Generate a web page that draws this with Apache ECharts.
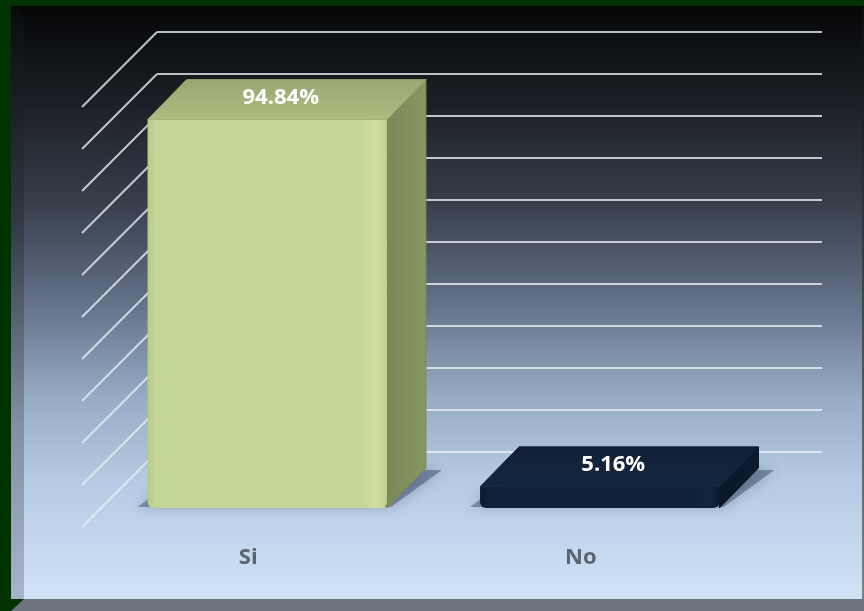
<!DOCTYPE html>
<html><head><meta charset="utf-8">
<script src="https://cdn.jsdelivr.net/npm/echarts@6/dist/echarts.min.js"></script>
<style>html,body{margin:0;padding:0;background:#013201;}#c{width:864px;height:611px;}</style>
</head><body><div id="c"></div>
<script>
// ---- data ----
const categories = ['Si', 'No'];
const values = [94.84, 5.16];
const valueLabels = ['94.84%', '5.16%'];
const yMin = 0, yMax = 100, yInterval = 10;
const yTicks = [0, 10, 20, 30, 40, 50, 60, 70, 80, 90, 100];

// ---- styles ----
const barStyles = [
  { front: ['#b8ca8a', '#c4d698', '#c5d799', '#cfe0a2', '#c0d192'], top: ['#adbc82', '#99a871'], side: ['#7b8958', '#889662'] },
  { front: ['#0b1a2e', '#0f2038', '#102139', '#13253f', '#0c1b30'], top: ['#15273f', '#102037'], side: ['#0a1628', '#0d1b30'] }
];
const gridColor = 'rgba(232,238,244,0.8)';
const FRONT = [-56, 56], BACK = [-17, 16], FLOOR = 75, K = 0.975;
const FONT = '"Open Sans", "Liberation Sans", sans-serif';

const chart = echarts.init(document.getElementById('c'), null, { renderer: 'canvas' });

function lin(x1, y1, x2, y2, cols) {
  const n = cols.length;
  return new echarts.graphic.LinearGradient(x1, y1, x2, y2,
    cols.map((c, i) => ({ offset: n === 5 ? [0, 0.03, 0.9, 0.96, 1][i] : i / (n - 1), color: c })));
}

function renderDiag(params, api) {
  const y = api.coord([0, api.value(1)])[1];
  const x0 = params.coordSys.x;
  return { type: 'line', shape: { x1: x0, y1: y, x2: x0 - FLOOR, y2: y + FLOOR },
    style: { stroke: gridColor, lineWidth: 2 } };
}

function renderBar(params, api) {
  const i = params.dataIndex;
  const v = api.value(1);
  const b = api.coord([i, 0]);
  const t = api.coord([i, v]);
  const cx = b[0];
  const bw = api.size([1, 0])[0] * 0.72;
  const h = (b[1] - t[1]) * K;
  const s = barStyles[i];
  const fx0 = cx + FRONT[0] - bw / 2, fx1 = cx + FRONT[0] + bw / 2;
  const fyb = b[1] + FRONT[1], fyt = fyb - h;
  const bx0 = cx + BACK[0] - bw / 2, bx1 = cx + BACK[0] + bw / 2;
  const byb = b[1] + BACK[1], byt = byb - h;
  const children = [];
  children.push({ type: 'polygon', shape: { points: [[fx0 - 10, fyb - 1], [fx1 + 4, fyb - 1], [bx1 + 16, byb + 2], [bx0, byb + 2]] },
    style: { fill: 'rgba(40,55,80,0.42)', shadowBlur: 14, shadowColor: 'rgba(40,55,80,0.7)' } });
  children.push({ type: 'polygon', shape: { points: [[fx1, fyt], [bx1, byt], [bx1, byb], [fx1, fyb]] },
    style: { fill: lin(0, 0, 1, 0, s.side), stroke: s.side[0], lineWidth: 1, lineJoin: 'round' } });
  children.push({ type: 'polygon', shape: { points: [[fx0, fyt], [fx1, fyt], [bx1, byt], [bx0, byt]] },
    style: { fill: lin(0, 1, 0, 0, s.top), stroke: s.top[1], lineWidth: 1, lineJoin: 'round' } });
  children.push({ type: 'rect', shape: { x: fx0, y: fyt, width: bw, height: fyb - fyt, r: [1, 1, 6, 6] },
    style: { fill: lin(0, 0, 1, 0, s.front) } });
  const lx = (fx0 + fx1 + bx0 + bx1) / 4 - 6;
  const ly = (fyt + byt) / 2 - 2;
  children.push({ type: 'text', x: lx, y: ly,
    style: { text: valueLabels[i], fill: '#ffffff', fontSize: 22, fontWeight: 'bold',
      fontFamily: FONT, align: 'center', verticalAlign: 'middle' } });
  children.push({ type: 'text', x: cx - FLOOR, y: b[1] + 106,
    style: { text: categories[i], fill: '#5b6472', fontSize: 22, fontWeight: 'bold',
      fontFamily: FONT, align: 'center', verticalAlign: 'middle' } });
  return { type: 'group', children };
}

const option = {
  backgroundColor: '#013201',
  animation: false,
  graphic: [
    { type: 'rect', z: -100, shape: { x: 11, y: 6, width: 851, height: 593 },
      style: { fill: new echarts.graphic.LinearGradient(0, 0, 0, 1, [
        { offset: 0, color: '#050607' }, { offset: 0.05, color: '#0c0e11' },
        { offset: 0.17, color: '#1d2127' }, { offset: 0.33, color: '#363e4a' },
        { offset: 0.5, color: '#637188' }, { offset: 0.66, color: '#97abc4' },
        { offset: 0.8, color: '#b6cae4' }, { offset: 1, color: '#d1e2f6' }]) } },
    { type: 'polygon', z: -99, shape: { points: [[11, 6], [24, 18], [24, 599], [11, 599]] },
      style: { fill: new echarts.graphic.LinearGradient(0, 0, 0, 1, [
        { offset: 0, color: '#090b0d' }, { offset: 0.35, color: '#2f3640' },
        { offset: 0.7, color: '#7f8ea2' }, { offset: 1, color: '#a6b5c8' }]) } },
    { type: 'polygon', z: -99, shape: { points: [[11, 611], [24, 599], [862, 599], [864, 597], [864, 611]] },
      style: { fill: '#6e757e' } },
    { type: 'rect', z: -99, shape: { x: 862, y: 6, width: 2, height: 593 },
      style: { fill: new echarts.graphic.LinearGradient(0, 0, 0, 1, [
        { offset: 0, color: '#0a0b0d' }, { offset: 1, color: '#7a828c' }]) } }
  ],
  grid: { left: 157, right: 42, top: 32, bottom: 159, containLabel: false },
  xAxis: { type: 'category', data: categories, axisLine: { show: false }, axisTick: { show: false },
    axisLabel: { show: false }, splitLine: { show: false } },
  yAxis: { type: 'value', min: yMin, max: yMax, interval: yInterval,
    axisLine: { show: false }, axisTick: { show: false }, axisLabel: { show: false },
    splitLine: { show: true, lineStyle: { color: gridColor, width: 2 } } },
  series: [
    { type: 'custom', renderItem: renderDiag, data: yTicks.map(v => [0, v]), silent: true, z: 1 },
    { type: 'custom', renderItem: renderBar, data: values.map((v, i) => [i, v]), silent: true, z: 3 }
  ]
};
chart.setOption(option);
</script></body></html>
